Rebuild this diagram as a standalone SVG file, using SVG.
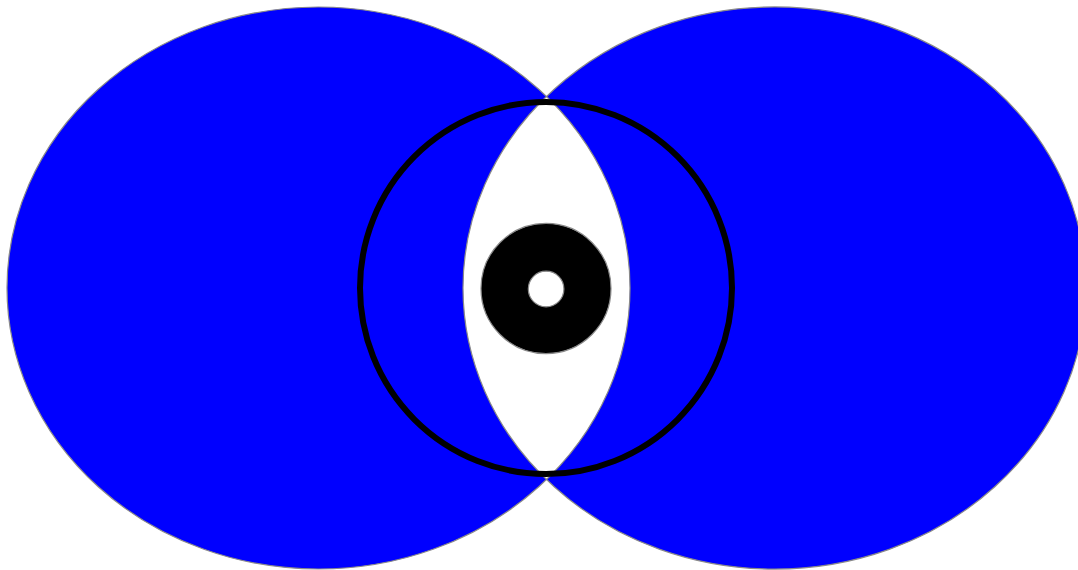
<svg xmlns="http://www.w3.org/2000/svg" width="1078" height="570" viewBox="0 0 1078 570">
  <style>
    .thin { stroke: #8a8a8a; stroke-width: 1.2; }
  </style>
  <rect width="1078" height="570" fill="#ffffff"/>
  <g id="ellipses">
    <path class="thin" fill="#0000ff" fill-rule="evenodd"
      d="M 7 288 A 311.5 281 0 1 0 630 288 A 311.5 281 0 1 0 7 288 Z
         M 463 288 A 311.5 281 0 1 0 1086 288 A 311.5 281 0 1 0 463 288 Z"/>
  </g>
  <g id="ring">
    <circle cx="546" cy="288" r="186" fill="none" stroke="#000000" stroke-width="6"/>
  </g>
  <g id="disc">
    <path class="thin" fill="#000000" fill-rule="evenodd"
      d="M 481 288.5 A 65 65 0 1 0 611 288.5 A 65 65 0 1 0 481 288.5 Z
         M 528.3 289 A 17.8 17.8 0 1 0 563.9 289 A 17.8 17.8 0 1 0 528.3 289 Z"/>
  </g>
</svg>
